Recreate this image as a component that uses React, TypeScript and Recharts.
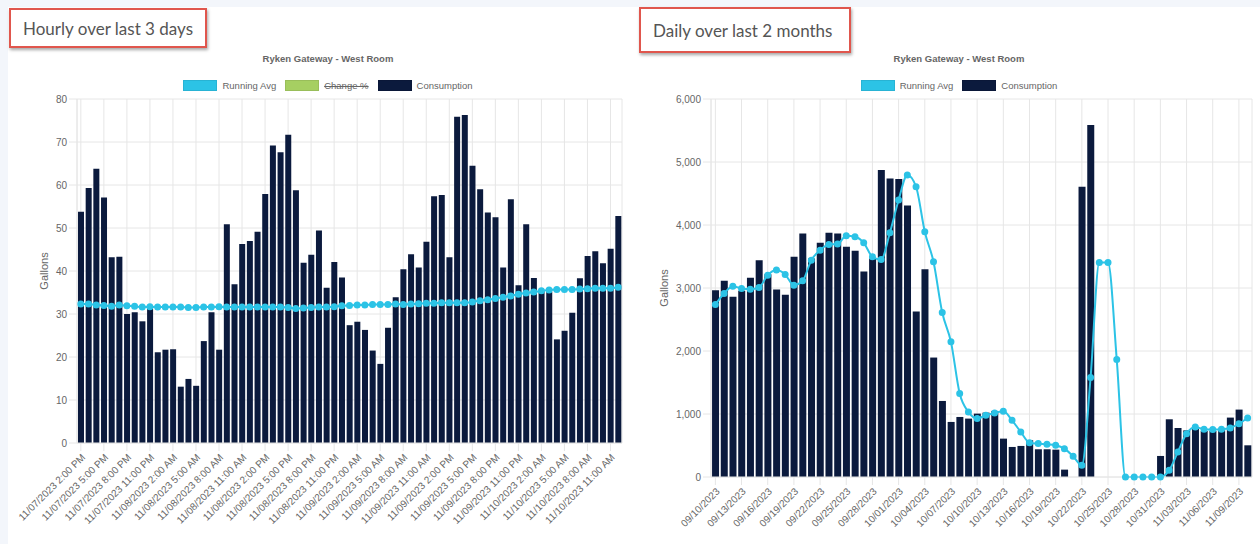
import React from 'react';
import { ComposedChart, Bar, Line, XAxis, YAxis, CartesianGrid } from 'recharts';

// hourly readings, 11/07/2023 2:00 PM -> 11/10/2023 12:00 PM
const hourlyConsumption = [
  53.8, 59.3, 63.8, 57.1, 43.2, 43.3, 30.0, 30.4, 28.3, 31.3,
  21.1, 21.7, 21.8, 13.1, 14.9, 13.3, 23.7, 30.4, 21.7, 50.9,
  36.9, 46.3, 47.0, 49.1, 57.9, 69.2, 67.6, 71.7, 58.8, 41.9,
  43.8, 49.4, 36.1, 42.1, 38.5, 27.4, 28.2, 26.3, 21.5, 18.4,
  26.8, 33.9, 40.4, 43.9, 40.8, 46.8, 57.4, 57.7, 43.2, 75.9,
  76.3, 64.5, 59.0, 53.6, 52.5, 40.8, 56.7, 36.7, 50.9, 38.4,
  35.6, 35.2, 24.1, 26.1, 30.3, 38.3, 43.5, 44.6, 41.8, 45.2,
  52.8,
];
const hourlyRunningAvg = [
  32.3, 32.3, 32.1, 32.0, 31.8, 32.1, 31.9, 31.8, 31.6, 31.7,
  31.6, 31.6, 31.6, 31.6, 31.5, 31.5, 31.6, 31.6, 31.7, 31.6,
  31.6, 31.6, 31.6, 31.6, 31.6, 31.6, 31.6, 31.5, 31.3, 31.4,
  31.5, 31.6, 31.6, 31.7, 31.9, 32.0, 32.1, 32.1, 32.2, 32.2,
  32.2, 32.3, 32.2, 32.3, 32.4, 32.5, 32.5, 32.6, 32.6, 32.6,
  32.6, 32.8, 33.1, 33.3, 33.6, 33.9, 34.2, 34.6, 34.9, 35.1,
  35.4, 35.6, 35.7, 35.7, 35.7, 35.8, 35.9, 36.0, 36.0, 36.0,
  36.2,
];

// daily readings, 09/10/2023 -> 11/10/2023
const dailyConsumption = [
  2966, 3114, 2860, 2955, 3162, 3442, 3220, 2976, 2892, 3495,
  3866, 3469, 3718, 3877, 3866, 3654, 3591, 3262, 3469, 4872,
  4740, 4729, 4311, 2627, 3299, 1896, 1207, 874, 953, 927,
  1006, 1022, 1049, 609, 477, 493, 583, 440, 440, 434,
  117, 0, 4607, 5587, 0, 0, 0, 0, 0, 0,
  0, 334, 916, 778, 740, 768, 731, 731, 741, 943,
  1070, 503,
];
const dailyRunningAvg = [
  2738, 2913, 3029, 2992, 2982, 3008, 3204, 3284, 3215, 3045,
  3114, 3442, 3601, 3691, 3697, 3829, 3813, 3718, 3495, 3453,
  3877, 4396, 4793, 4607, 3893, 3416, 2611, 2145, 1324, 1033,
  927, 980, 1017, 1043, 900, 715, 545, 530, 519, 503,
  450, 328, 185, 1578, 3405, 3405, 1864, 0, 0, 0,
  0, 0, 106, 397, 688, 794, 757, 752, 757, 778,
  847, 937,
];

const hourlyTicks = [0, 10, 20, 30, 40, 50, 60, 70, 80];
const dailyTicks = [0, 1000, 2000, 3000, 4000, 5000, 6000];

const AVG_COLOR = '#2cc3e6';
const BAR_COLOR = '#0b1a3d';
const GRID = '#e6e6e6';
const FONT = '"Liberation Sans", Arial, Helvetica, sans-serif';

const hourlyLegend = [
  { name: 'Running Avg', color: AVG_COLOR },
  { name: 'Change %', color: '#a6cf62', hidden: true },
  { name: 'Consumption', color: BAR_COLOR },
];
const dailyLegend = [
  { name: 'Running Avg', color: AVG_COLOR },
  { name: 'Consumption', color: BAR_COLOR },
];

const pad = (n: number) => String(n).padStart(2, '0');
const fmtDay = (d: Date) => `${pad(d.getMonth() + 1)}/${pad(d.getDate())}/${d.getFullYear()}`;
const fmtHour = (d: Date) => {
  const h = d.getHours();
  return `${fmtDay(d)} ${h % 12 === 0 ? 12 : h % 12}:00 ${h < 12 ? 'AM' : 'PM'}`;
};

const hourlyLabels = hourlyConsumption.map((_, i) => fmtHour(new Date(2023, 10, 7, 14 + i)));
const dailyLabels = dailyConsumption.map((_, i) => fmtDay(new Date(2023, 8, 10 + i)));

const hourlyData = hourlyLabels.map((label, i) => ({
  label,
  consumption: hourlyConsumption[i],
  avg: hourlyRunningAvg[i],
}));
const dailyData = dailyLabels.map((label, i) => ({
  label,
  consumption: dailyConsumption[i],
  avg: dailyRunningAvg[i],
}));

const Heading: React.FC<{ text: string; left: number; top: number; width: number; height: number }> = ({ text, left, top, width, height }) => (
  <div
    style={{
      position: 'absolute', left, top, width, height, boxSizing: 'border-box',
      border: '2px solid #e0564d', boxShadow: '1px 2px 3px rgba(0,0,0,0.35)',
      background: '#fff', display: 'flex', alignItems: 'center', paddingLeft: 12,
      fontFamily: 'Lato, "Open Sans", sans-serif', fontSize: 17, color: '#555',
    }}
  >
    {text}
  </div>
);

const ChartHeader: React.FC<{ center: number; items: { name: string; color: string; hidden?: boolean }[] }> = ({ center, items }) => (
  <>
    <div style={{ position: 'absolute', left: center - 200, width: 400, top: 53, textAlign: 'center', fontFamily: FONT, fontSize: 9.5, fontWeight: 'bold', color: '#666' }}>
      Ryken Gateway - West Room
    </div>
    <div style={{ position: 'absolute', left: center - 300, width: 600, top: 80, display: 'flex', justifyContent: 'center', gap: 9, fontFamily: FONT, fontSize: 9.5, color: '#666' }}>
      {items.map((it) => (
        <div key={it.name} style={{ display: 'flex', alignItems: 'center' }}>
          <span style={{ display: 'inline-block', width: 34, height: 11, background: it.color, marginRight: 5, boxSizing: 'border-box', border: '1px solid rgba(0,0,0,0.08)' }} />
          <span style={{ textDecoration: it.hidden ? 'line-through' : 'none' }}>{it.name}</span>
        </div>
      ))}
    </div>
  </>
);

const tickStyle = { fill: '#666', fontSize: 10, fontFamily: FONT };

export default function App() {
  return (
    <div style={{ position: 'absolute', left: 0, top: 0, width: 1260, height: 544, background: '#f3f6fb', overflow: 'hidden' }}>
      <div style={{ position: 'absolute', left: 8, top: 7, width: 1252, height: 537, background: '#fff' }} />

      <Heading text="Hourly over last 3 days" left={9} top={8} width={198} height={40} />
      <Heading text="Daily over last 2 months" left={639} top={7} width={212} height={46} />

      <ChartHeader center={328} items={hourlyLegend} />
      <ChartHeader center={959} items={dailyLegend} />

      <div style={{ position: 'absolute', left: 0, top: 0 }}>
        <ComposedChart width={630} height={544} data={hourlyData} margin={{ top: 99, right: 8, bottom: 0, left: 30 }} barCategoryGap="13%">
          <CartesianGrid stroke={GRID} />
          <XAxis
            dataKey="label"
            interval={2}
            height={101}
            angle={-45}
            textAnchor="end"
            tick={tickStyle}
            tickSize={8}
            tickLine={{ stroke: GRID }}
            axisLine={{ stroke: GRID }}
          />
          <YAxis
            width={47}
            domain={[0, 80]}
            ticks={hourlyTicks}
            tick={tickStyle}
            tickSize={8}
            tickLine={{ stroke: GRID }}
            axisLine={{ stroke: GRID }}
            label={{ value: 'Gallons', angle: -90, position: 'insideLeft', offset: 14, style: { textAnchor: 'middle', fill: '#666', fontSize: 11, fontFamily: FONT } }}
          />
          <Bar dataKey="consumption" fill={BAR_COLOR} isAnimationActive={false} />
          <Line type="monotone" dataKey="avg" stroke={AVG_COLOR} strokeWidth={2} dot={{ r: 2.5, fill: AVG_COLOR, stroke: AVG_COLOR }} isAnimationActive={false} />
        </ComposedChart>
      </div>

      <div style={{ position: 'absolute', left: 630, top: 0 }}>
        <ComposedChart width={630} height={544} data={dailyData} margin={{ top: 99, right: 8, bottom: 0, left: 20 }} barCategoryGap="12%">
          <CartesianGrid stroke={GRID} />
          <XAxis
            dataKey="label"
            interval={2}
            height={67}
            angle={-45}
            textAnchor="end"
            tick={tickStyle}
            tickSize={8}
            tickLine={{ stroke: GRID }}
            axisLine={{ stroke: GRID }}
          />
          <YAxis
            width={61}
            domain={[0, 6000]}
            ticks={dailyTicks}
            tickFormatter={(v: number) => v.toLocaleString('en-US')}
            tick={tickStyle}
            tickSize={8}
            tickLine={{ stroke: GRID }}
            axisLine={{ stroke: GRID }}
            label={{ value: 'Gallons', angle: -90, position: 'insideLeft', offset: 14, style: { textAnchor: 'middle', fill: '#666', fontSize: 11, fontFamily: FONT } }}
          />
          <Bar dataKey="consumption" fill={BAR_COLOR} isAnimationActive={false} />
          <Line type="monotone" dataKey="avg" stroke={AVG_COLOR} strokeWidth={2} dot={{ r: 2.5, fill: AVG_COLOR, stroke: AVG_COLOR }} isAnimationActive={false} />
        </ComposedChart>
      </div>
    </div>
  );
}
